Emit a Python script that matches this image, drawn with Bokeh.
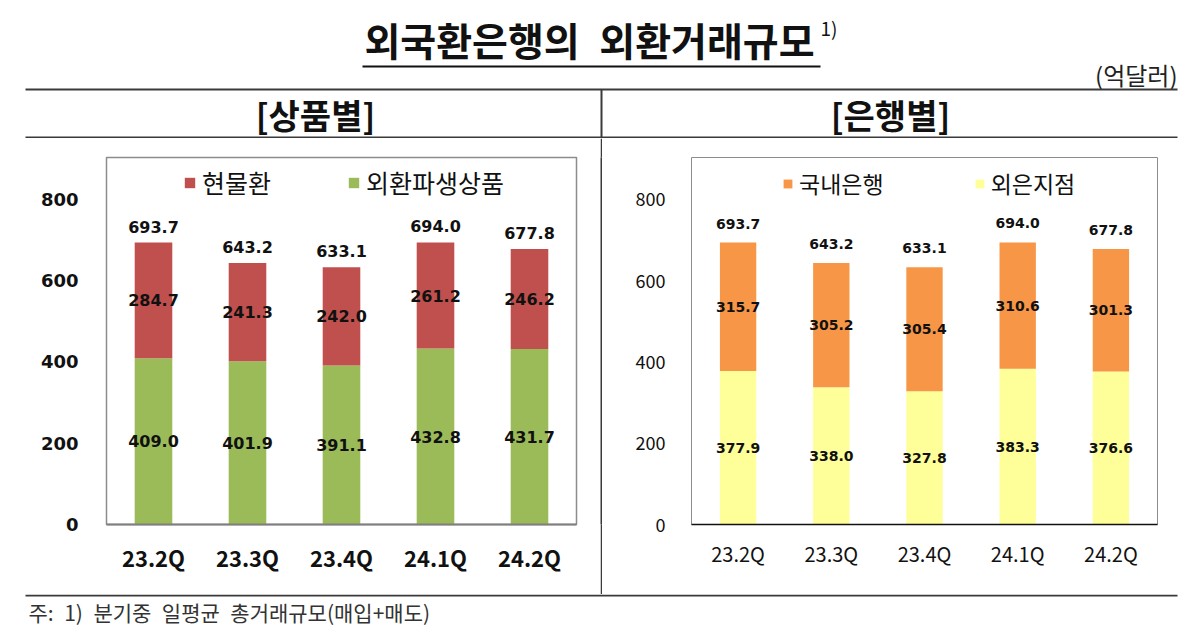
from bokeh.plotting import figure
from bokeh.models import ColumnDataSource, FactorRange, Range1d, FixedTicker, Legend, LegendItem
from bokeh.layouts import column, row
from bokeh.embed import file_html
from bokeh.resources import INLINE
from bokeh.core.properties import value

# ---------------- data ----------------
quarters = ["23.2Q", "23.3Q", "23.4Q", "24.1Q", "24.2Q"]
spot = [284.7, 241.3, 242.0, 261.2, 246.2]          # 현물환
deriv = [409.0, 401.9, 391.1, 432.8, 431.7]         # 외환파생상품
prod_total = [693.7, 643.2, 633.1, 694.0, 677.8]
domestic = [315.7, 305.2, 305.4, 310.6, 301.3]      # 국내은행
foreign = [377.9, 338.0, 327.8, 383.3, 376.6]       # 외은지점
bank_total = [693.7, 643.2, 633.1, 694.0, 677.8]
y_ticks = [0, 200, 400, 600, 800]

title_text = "외국환은행의\u2002외환거래규모"
unit_text = "(억달러)"
left_header = "[상품별]"
right_header = "[은행별]"
note_text = "주:\u20021)\u2002분기중\u2002일평균\u2002총거래규모(매입+매도)"

KR = "Noto Sans CJK KR"
NUM = "DejaVu Sans"
LINE = "#3a3a3a"
RED, GREEN = "#C0504D", "#9BBB59"
ORANGE, YELLOW = "#F79646", "#FFFF99"


def bare(w, h, xr, yr):
    f = figure(width=w, height=h, x_range=xr, y_range=yr, x_axis_type=None, y_axis_type=None,
               toolbar_location=None, output_backend="svg", min_border=0)
    f.grid.visible = False
    f.outline_line_color = None
    return f


# ---------------- header ----------------
hdr = bare(1200, 138, Range1d(0, 1200), Range1d(138, 0))
hdr.text(x=[589], y=[38], text=[title_text], text_font=value(KR), text_font_style="bold",
         text_font_size="39px", text_align="center", text_baseline="middle", text_color="#111")
hdr.text(x=[820], y=[27], text=["1)"], text_font=value(KR), text_font_size="19px",
         text_align="left", text_baseline="middle", text_color="#111")
hdr.segment(x0=[362], y0=[66], x1=[820], y1=[66], line_color="#111", line_width=2)
hdr.text(x=[1177], y=[74], text=[unit_text], text_font=value(KR), text_font_size="24px",
         text_align="right", text_baseline="middle", text_color="#222")
hdr.segment(x0=[25, 25, 601], y0=[89, 137, 89], x1=[1177, 1177, 601], y1=[89, 137, 138],
            line_color=LINE, line_width=2)
hdr.text(x=[315, 890], y=[114, 114], text=[left_header, right_header], text_font=value(KR),
         text_font_style="bold", text_font_size="34px", text_align="center",
         text_baseline="middle", text_color="#111")


def style_axes(p, tick_font, tick_size, tick_bold, x_size, x_bold, y_standoff, x_standoff):
    p.grid.visible = False
    p.yaxis.ticker = FixedTicker(ticks=y_ticks)
    p.yaxis.major_tick_line_color = None
    p.yaxis.minor_tick_line_color = None
    p.yaxis.axis_line_color = None
    p.yaxis.major_label_standoff = y_standoff
    p.yaxis.major_label_text_font = tick_font
    p.yaxis.major_label_text_font_size = tick_size
    p.yaxis.major_label_text_font_style = "bold" if tick_bold else "normal"
    p.yaxis.major_label_text_color = "#111"
    p.xaxis.major_tick_line_color = None
    p.xaxis.minor_tick_line_color = None
    p.xaxis.major_label_standoff = x_standoff
    p.xaxis.major_label_text_font = KR
    p.xaxis.major_label_text_font_size = x_size
    p.xaxis.major_label_text_font_style = "bold" if x_bold else "normal"
    p.xaxis.major_label_text_color = "#111"


def stacked(p, lower, upper, totals, colors, width, size, top_off):
    src = ColumnDataSource(dict(q=quarters, lo=lower, up=upper))
    rs = p.vbar_stack(["lo", "up"], x="q", width=width, color=colors, line_color=None, source=src)
    lab = ColumnDataSource(dict(
        q=quarters * 2,
        y=[v / 2 for v in lower] + [a + b / 2 for a, b in zip(lower, upper)],
        t=[f"{v:.1f}" for v in lower] + [f"{v:.1f}" for v in upper]))
    p.text(x="q", y="y", text="t", source=lab, text_font=value(NUM), text_font_style="bold",
           text_font_size=size, text_align="center", text_baseline="middle", text_color="#111")
    tot = ColumnDataSource(dict(q=quarters, y=totals, t=[f"{v:.1f}" for v in totals]))
    p.text(x="q", y="y", text="t", source=tot, text_font=value(NUM), text_font_style="bold",
           text_font_size=size, text_align="center", text_baseline="middle",
           text_color="#111", y_offset=top_off)
    return rs


# ---------------- left chart ----------------
L = figure(width=600, height=456, x_range=FactorRange(*quarters), y_range=Range1d(0, 903),
           toolbar_location=None, output_backend="svg",
           min_border_left=106, min_border_right=24, min_border_top=19, min_border_bottom=67)
style_axes(L, NUM, "18px", True, "22px", True, 22, 10)
L.xaxis.axis_line_color = "#7f7f7f"
L.xaxis.axis_line_width = 2
L.outline_line_color = "#8c8c8c"
L.outline_line_width = 1.5
rl = stacked(L, deriv, spot, prod_total, [GREEN, RED], 0.4, "16px", -16)
legL = Legend(items=[LegendItem(label="현물환", renderers=[rl[1]]),
                     LegendItem(label="외환파생상품", renderers=[rl[0]])],
              orientation="horizontal", location=(77, 324), label_text_font=KR,
              label_text_font_size="25px", label_text_color="#111", glyph_width=13,
              glyph_height=13, label_standoff=6, spacing=76, padding=0, margin=0,
              border_line_color=None, background_fill_alpha=0)
L.add_layout(legL)

# ---------------- separator ----------------
sep = bare(2, 456, Range1d(0, 1), Range1d(0, 1))
sep.background_fill_color = LINE
sep.border_fill_color = LINE

# ---------------- right chart ----------------
R = figure(width=598, height=456, x_range=FactorRange(*quarters), y_range=Range1d(0, 903),
           toolbar_location=None, output_backend="svg",
           min_border_left=89, min_border_right=43, min_border_top=19, min_border_bottom=70)
style_axes(R, KR, "18px", False, "20px", False, 20, 8)
R.xaxis.axis_line_color = "#111"
R.xaxis.axis_line_width = 1.5
R.outline_line_color = "#8c8c8c"
R.outline_line_width = 1
rr = stacked(R, foreign, domestic, bank_total, [YELLOW, ORANGE], 0.39, "14px", -19)
legR = Legend(items=[LegendItem(label="국내은행", renderers=[rr[1]]),
                     LegendItem(label="외은지점", renderers=[rr[0]])],
              orientation="horizontal", location=(91, 324), label_text_font=KR,
              label_text_font_size="23px", label_text_color="#111", glyph_width=11,
              glyph_height=11, label_standoff=6, spacing=90, padding=0, margin=0,
              border_line_color=None, background_fill_alpha=0)
R.add_layout(legR)

# ---------------- footer ----------------
ftr = bare(1200, 41, Range1d(0, 1200), Range1d(41, 0))
ftr.segment(x0=[25], y0=[1], x1=[1177], y1=[1], line_color=LINE, line_width=2)
ftr.text(x=[28], y=[17], text=[note_text], text_font=value(KR), text_font_size="21px",
         text_align="left", text_baseline="middle", text_color="#333")

page = column(hdr, row(L, sep, R), ftr)
open("out.html", "w").write(file_html(page, INLINE))
